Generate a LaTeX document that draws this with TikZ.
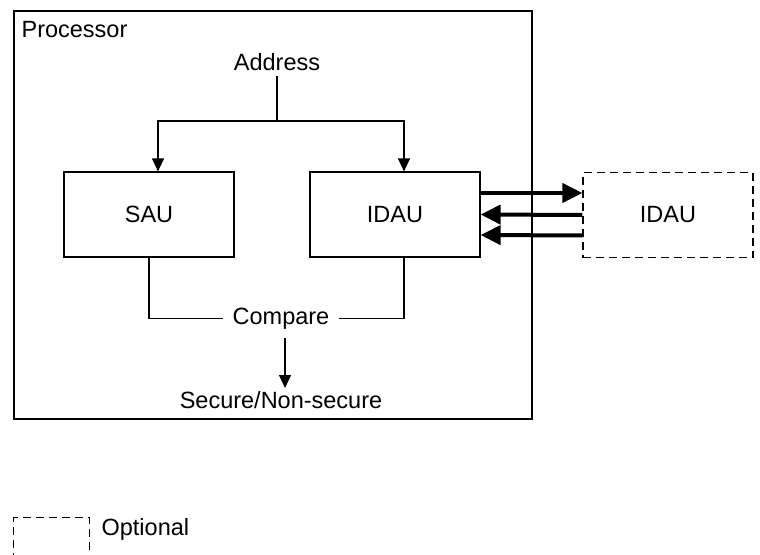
\documentclass[tikz,border=0pt]{standalone}
\usepackage{fontspec}
\setmainfont{Liberation Sans}
\usetikzlibrary{arrows.meta}

\def\boxw{170pt}
\def\boxh{85pt}

\begin{document}
\begin{tikzpicture}[x=1pt,y=-1pt,line width=1.2pt,draw=black,font=\fontsize{23.5}{27}\selectfont]
    \tikzstyle{unit}=[draw,minimum width=\boxw,minimum height=\boxh,inner sep=0pt]
    \tikzstyle{ext unit}=[unit,dashed,dash pattern=on 8pt off 5pt]
    \tikzstyle{label}=[inner sep=0pt]
    \tikzstyle{thin arrow}=[-{Triangle[length=13pt,width=12pt]}]
    \tikzstyle{bus arrow}=[line width=4pt,-{Triangle[length=20pt,width=19pt]}]

    \useasboundingbox (0,0) rectangle (760,554);

    % Draw the processor frame
    \node[draw,minimum width=518pt,minimum height=408pt,inner sep=0pt] (proc) at (273,215) {};
    \node[label,anchor=base west] (proc-l) at (21,37) {Processor};

    % Draw the attribution units
    \node[unit] (SAU) at (149,214.5) {SAU};
    \node[unit] (IDAU-1) at (395,214.5) {IDAU};
    \node[ext unit] (IDAU-2) at (668,215) {IDAU};

    % Address goes to both units
    \node[label,anchor=base] (addr) at (277,70) {Address};
    \coordinate (split) at (277,121);
    \draw ([yshift=-5pt]addr.south) -- (split);
    \draw[thin arrow] (split) -| ([xshift=9pt]SAU.north);
    \draw[thin arrow] (split) -| ([xshift=9pt]IDAU-1.north);

    % Results are compared
    \node[label,anchor=base,inner xsep=9pt] (cmp) at (281,324) {Compare};
    \draw (SAU.south) |- (cmp.west);
    \draw ([xshift=9pt]IDAU-1.south) |- (cmp.east);
    \node[label,anchor=base] (res) at (281,408) {Secure/Non-secure};
    \draw[thin arrow] (285,338) -- (285,388);

    % Connect the internal IDAU with the external one
    \draw[bus arrow] ([yshift=21.5pt]IDAU-1.east) -- ([yshift=22pt]IDAU-2.west);
    \draw[bus arrow] (IDAU-2.west) -- (IDAU-1.east);
    \draw[bus arrow] ([yshift=-20.5pt]IDAU-2.west) -- ([yshift=-20.5pt]IDAU-1.east);

    % Legend
    \node[ext unit,minimum width=76pt,minimum height=60pt,anchor=north west] (opt) at (13,517) {};
    \node[label,anchor=base west] (opt-l) at (101,535) {Optional};
\end{tikzpicture}
\end{document}
